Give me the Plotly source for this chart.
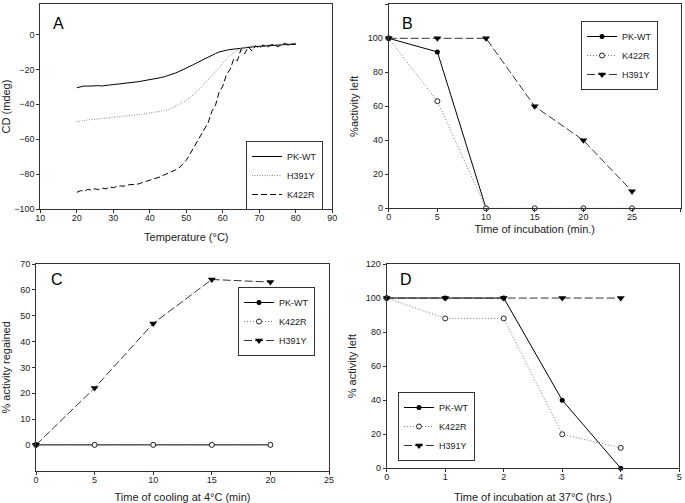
import plotly.graph_objects as go

# ---- panel A : CD melting curves ----
temp_a = list(range(20, 81))
cd_wt = [-30.5, -29.8, -29.5, -29.6, -29.4, -29.6, -29.3, -29.5, -29.0, -28.9,
         -28.7, -28.5, -28.3, -28.0, -27.8, -27.5, -27.2, -27.0, -26.6, -26.3,
         -26.0, -25.6, -25.2, -24.7, -24.2, -23.6, -22.9, -22.1, -21.2, -20.3,
         -19.3, -18.3, -17.2, -16.1, -15.0, -13.9, -12.8, -11.8, -10.9, -10.0,
         -9.3, -9.0, -8.6, -8.3, -8.1, -7.8, -7.6, -7.3, -7.1, -6.9,
         -6.8, -6.6, -6.4, -6.3, -6.1, -6.0, -5.9, -5.8, -5.7, -5.6, -5.5]
cd_h391y = [-50.0, -49.5, -49.3, -49.0, -48.8, -48.6, -48.4, -48.3, -48.0, -47.8,
            -47.6, -47.4, -47.2, -46.9, -46.7, -46.4, -46.2, -45.9, -45.6, -45.3,
            -45.0, -44.7, -44.3, -44.0, -43.6, -43.0, -42.2, -41.3, -40.2, -39.0,
            -37.7, -36.2, -34.5, -32.6, -30.5, -28.3, -26.0, -23.5, -21.0, -18.5,
            -16.2, -14.0, -12.0, -10.3, -9.0, -8.0, -7.4, -7.0, -6.6, -6.3,
            -6.1, -6.0, -5.9, -5.8, -5.6, -5.5, -5.4, -5.3, -5.2, -5.1, -5.0]
cd_k422r = [-90.5, -89.5, -89.8, -88.8, -89.2, -88.4, -88.9, -88.0, -88.5, -87.4,
            -87.8, -87.0, -86.8, -86.9, -86.2, -86.0, -85.4, -85.6, -84.8, -84.2,
            -83.6, -83.0, -82.0, -81.5, -80.4, -79.6, -78.8, -77.6, -76.5, -74.5,
            -72.0, -68.5, -65.0, -61.5, -58.0, -54.0, -50.5, -44.0, -40.5, -33.0,
            -29.5, -23.0, -20.0, -14.0, -15.0, -8.5, -11.0, -7.0, -9.5, -6.5,
            -8.0, -6.0, -7.5, -6.2, -5.5, -7.0, -5.8, -5.0, -6.2, -5.4, -5.5]

# ---- panel B : heat inactivation (min) ----
time_b = [0, 5, 10, 15, 20, 25]
b_wt = [100, 92, 0]
b_k422r = [100, 63, 0, 0, 0, 0]
b_h391y = [100, 100, 100, 60, 40, 10]

# ---- panel C : refolding at 4C ----
time_c = [0, 5, 10, 15, 20]
c_wt = [0, 0, 0, 0, 0]
c_k422r = [0, 0, 0, 0, 0]
c_h391y = [0, 22, 47, 64, 63]

# ---- panel D : incubation at 37C (hrs) ----
time_d = [0, 1, 2, 3, 4]
d_wt = [100, 100, 100, 40, 0]
d_k422r = [100, 88, 88, 20, 12]
d_h391y = [100, 100, 100, 100, 100]

W, H = 685, 503
FONT = "Liberation Sans, Arial, sans-serif"

def px(x):
    return x / W

def py(y):
    return 1 - y / H

fig = go.Figure()

# panel A
fig.add_trace(go.Scatter(x=temp_a, y=cd_wt, mode="lines", name="PK-WT",
                         line=dict(color="black", width=1), xaxis="x", yaxis="y", legend="legend"))
fig.add_trace(go.Scatter(x=temp_a, y=cd_h391y, mode="lines", name="H391Y",
                         line=dict(color="#888", width=1, dash="1px,1.5px"), xaxis="x", yaxis="y", legend="legend"))
fig.add_trace(go.Scatter(x=temp_a, y=cd_k422r, mode="lines", name="K422R",
                         line=dict(color="black", width=1, dash="6px,3px"), xaxis="x", yaxis="y", legend="legend"))

def mk_series(xs, ys_wt, ys_k, ys_h, xa, ya, leg):
    fig.add_trace(go.Scatter(x=xs[:len(ys_wt)], y=ys_wt, mode="lines+markers", name="PK-WT",
                             line=dict(color="black", width=1),
                             marker=dict(symbol="circle", size=5, color="black"),
                             xaxis=xa, yaxis=ya, legend=leg, cliponaxis=False))
    fig.add_trace(go.Scatter(x=xs[:len(ys_k)], y=ys_k, mode="lines+markers", name="K422R",
                             line=dict(color="#777", width=1, dash="1px,2px"),
                             marker=dict(symbol="circle", size=5, color="white",
                                         line=dict(color="#222", width=1)),
                             xaxis=xa, yaxis=ya, legend=leg, cliponaxis=False))
    fig.add_trace(go.Scatter(x=xs[:len(ys_h)], y=ys_h, mode="lines+markers", name="H391Y",
                             line=dict(color="#333", width=1, dash="8px,3px"),
                             marker=dict(symbol="triangle-down", size=7, color="black"),
                             xaxis=xa, yaxis=ya, legend=leg, cliponaxis=False))

mk_series(time_b, b_wt, b_k422r, b_h391y, "x2", "y2", "legend2")
mk_series(time_c, c_wt, c_k422r, c_h391y, "x3", "y3", "legend3")
mk_series(time_d, d_wt, d_k422r, d_h391y, "x4", "y4", "legend4")

axis_common = dict(showline=True, mirror=True, linecolor="#333", linewidth=1,
                   ticks="outside", ticklen=3, tickcolor="#333", showgrid=False,
                   zeroline=False, automargin=False,
                   tickfont=dict(size=9, color="#222", family=FONT),
                   title_font=dict(size=11, color="#222", family=FONT))
xaxis_common = dict(axis_common, ticklabelstandoff=-3)

def leg(x0, y0):
    return dict(x=px(x0), y=py(y0), xanchor="left", yanchor="top",
                bordercolor="#333", borderwidth=1, bgcolor="white",
                font=dict(size=9, family=FONT, color="#222"),
                tracegroupgap=0, itemwidth=30)

fig.update_layout(
    width=W, height=H, margin=dict(l=0, r=0, t=0, b=0, autoexpand=False),
    paper_bgcolor="white", plot_bgcolor="white", font=dict(family=FONT),
    showlegend=True,
    xaxis=dict(xaxis_common, domain=[px(40.3), px(332.3)], range=[10, 90], dtick=10,
               anchor="y", title=dict(text="Temperature (°C)", standoff=11)),
    yaxis=dict(axis_common, domain=[py(209), py(4)], range=[-100, 17.5],
               tickvals=[-100, -80, -60, -40, -20, 0], anchor="x",
               title=dict(text="CD (mdeg)", standoff=6)),
    xaxis2=dict(xaxis_common, domain=[px(388.7), px(680.7)], range=[0, 30], dtick=5,
                anchor="y2", title=dict(text="Time of incubation (min.)", standoff=4)),
    yaxis2=dict(axis_common, domain=[py(208.3), py(4.3)], range=[0, 120], dtick=20,
                anchor="x2", title=dict(text="%activity left", standoff=7)),
    xaxis3=dict(xaxis_common, domain=[px(36), px(329)], range=[0, 25], dtick=5,
                anchor="y3", title=dict(text="Time of cooling at 4°C (min)", standoff=16)),
    yaxis3=dict(axis_common, domain=[py(470.7), py(264)], range=[-10, 70],
                tickvals=[0, 10, 20, 30, 40, 50, 60, 70], anchor="x3",
                title=dict(text="% activity regained", standoff=7)),
    xaxis4=dict(xaxis_common, domain=[px(386.7), px(679.3)], range=[0, 5], dtick=1,
                anchor="y4", title=dict(text="Time of incubation at 37°C (hrs.)", standoff=14)),
    yaxis4=dict(axis_common, domain=[py(468.3), py(264)], range=[0, 120], dtick=20,
                anchor="x4", title=dict(text="% activity left", standoff=7)),
    legend=leg(246, 141),
    legend2=leg(581, 21),
    legend3=leg(238, 287),
    legend4=leg(398, 392),
)

for letter, (lx, ly) in zip("ABCD", [(58, 24), (407, 24), (57, 279), (406, 279)]):
    fig.add_annotation(text=letter, x=px(lx), y=py(ly), xref="paper", yref="paper",
                       xanchor="center", yanchor="middle", showarrow=False,
                       font=dict(size=16, family=FONT, color="black"))

# drop the default 8px page margin so the figure sits at the window's corner
fig.write_html("out.html", config={"displayModeBar": False},
               post_script="document.body.style.margin='0';")
